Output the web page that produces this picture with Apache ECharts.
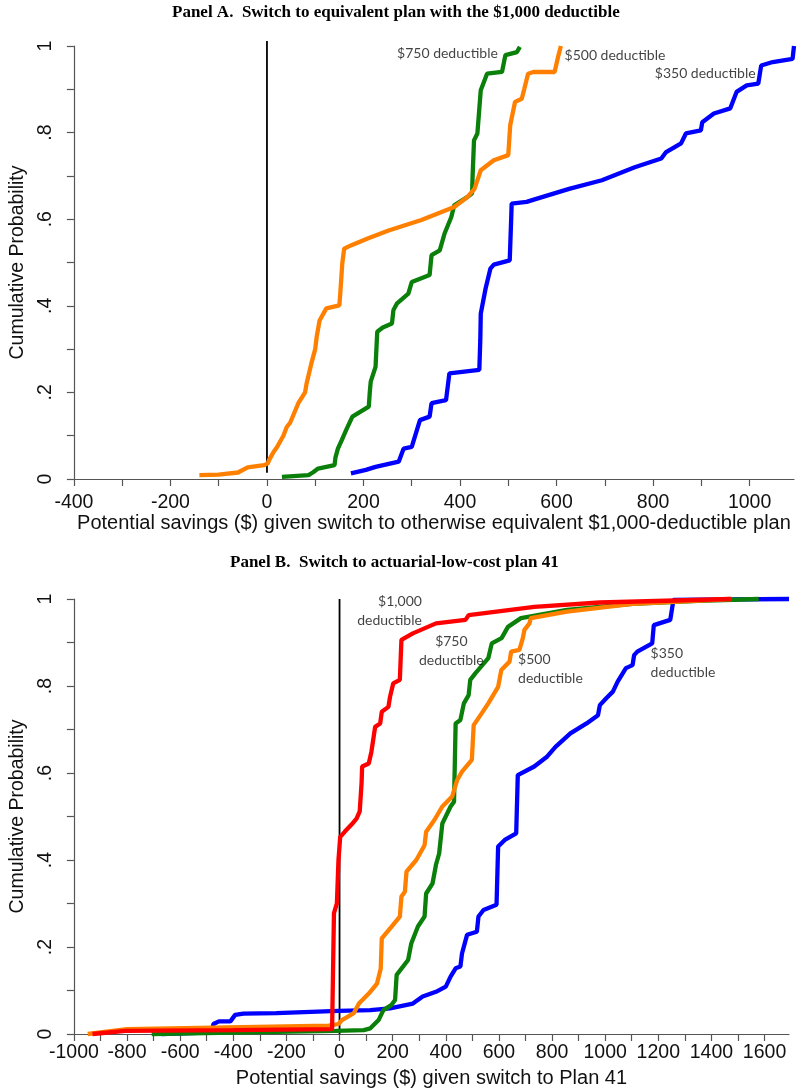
<!DOCTYPE html>
<html>
<head>
<meta charset="utf-8">
<script src="https://cdn.jsdelivr.net/npm/echarts@6/dist/echarts.min.js"></script>
<style>
html,body{margin:0;padding:0;background:#fff;}
#chart{width:812px;height:1091px;}
</style>
</head>
<body>
<div id="chart"></div>
<script>
// ---------- Panel A data: [savings $, cumulative probability] ----------
const panelA_500 = [[-140,0.009],[-100,0.010],[-60,0.015],[-40,0.027],[-6,0.032],[2,0.036],[4,0.043],[14,0.063],[21,0.074],[34,0.10],[41,0.12],[48,0.13],[65,0.175],[79,0.20],[82,0.22],[92,0.267],[100,0.30],[103,0.328],[109,0.366],[113,0.37],[123,0.394],[150,0.401],[152,0.43],[156,0.497],[160,0.532],[175,0.54],[210,0.556],[252,0.574],[320,0.598],[388,0.628],[415,0.651],[430,0.67],[443,0.713],[470,0.736],[500,0.748],[504,0.817],[514,0.871],[528,0.878],[533,0.90],[541,0.936],[552,0.94],[596,0.94],[603,0.974],[609,1.0]];
const panelA_750 = [[31,0.005],[86,0.009],[95,0.015],[106,0.024],[140,0.032],[142,0.05],[147,0.07],[155,0.09],[164,0.113],[177,0.144],[211,0.167],[213,0.2],[215,0.225],[225,0.259],[228.5,0.340],[240,0.35],[259,0.359],[262,0.39],[269,0.405],[293,0.428],[300,0.455],[337,0.471],[341,0.517],[358,0.528],[368,0.567],[382,0.605],[388,0.632],[415,0.651],[425,0.66],[426,0.697],[429,0.782],[436,0.798],[443,0.898],[456,0.936],[487,0.94],[494,0.979],[518,0.986],[524,0.998]];
const panelA_350 = [[174,0.013],[205,0.021],[225,0.028],[273,0.04],[283,0.07],[300,0.074],[317,0.136],[337,0.144],[341,0.175],[371,0.182],[378,0.244],[409,0.248],[440,0.252],[442,0.32],[443,0.382],[453,0.44],[463,0.486],[470,0.495],[503,0.505],[506,0.6],[507,0.636],[538,0.64],[558,0.647],[626,0.67],[694,0.69],[762,0.72],[817,0.74],[827,0.755],[858,0.775],[868,0.798],[899,0.805],[902,0.824],[926,0.844],[960,0.856],[973,0.894],[994,0.909],[1018,0.913],[1024,0.955],[1048,0.963],[1089,0.970],[1092,1.0]];

// ---------- Panel B data ----------
const panelB_1000 = [[-930,0.0],[-806,0.007],[-400,0.009],[-28,0.011],[-22,0.012],[-21,0.278],[-10,0.30],[-4,0.40],[2.5,0.453],[21,0.466],[46,0.482],[64,0.495],[76,0.512],[83,0.578],[85,0.615],[110,0.622],[120,0.649],[134,0.706],[153,0.714],[159,0.741],[184,0.752],[190,0.775],[202,0.806],[227,0.814],[233,0.906],[276,0.921],[363,0.944],[474,0.952],[486,0.963],[733,0.982],[980,0.992],[1226,0.996],[1473,1.0]];
const panelB_750 = [[-707,0.0],[-400,0.003],[-16,0.007],[91,0.009],[116,0.013],[147,0.032],[165,0.055],[196,0.067],[209,0.078],[215,0.136],[258,0.17],[270,0.208],[295,0.247],[320,0.27],[326,0.323],[350,0.346],[363,0.389],[375,0.415],[387,0.484],[418,0.523],[431,0.534],[437,0.714],[455,0.722],[468,0.76],[486,0.779],[492,0.814],[511,0.829],[560,0.864],[573,0.898],[610,0.91],[634,0.936],[683,0.956],[856,0.975],[1103,0.989],[1350,0.996],[1578,1.0]];
const panelB_500 = [[-948,0.0],[-800,0.011],[-41,0.019],[-4,0.023],[9,0.032],[54,0.048],[73,0.07],[110,0.093],[141,0.116],[155,0.15],[159,0.22],[196,0.247],[227,0.27],[233,0.316],[246,0.327],[252,0.373],[289,0.40],[320,0.434],[326,0.465],[357,0.492],[387,0.523],[424,0.546],[443,0.584],[461,0.603],[498,0.63],[505,0.71],[535,0.737],[560,0.76],[597,0.798],[609,0.837],[640,0.856],[646,0.879],[677,0.883],[690,0.91],[696,0.929],[715,0.944],[720,0.956],[856,0.971],[1103,0.989],[1473,1.0]];
const panelB_350 = [[-670,0.0],[-480,0.004],[-475,0.023],[-454,0.029],[-411,0.029],[-393,0.044],[-362,0.047],[-238,0.048],[-4,0.053],[116,0.055],[190,0.059],[276,0.07],[313,0.086],[363,0.097],[400,0.109],[418,0.132],[437,0.151],[455,0.155],[461,0.185],[480,0.228],[517,0.235],[523,0.27],[542,0.285],[591,0.297],[597,0.431],[622,0.446],[665,0.461],[671,0.595],[733,0.615],[782,0.638],[813,0.66],[869,0.691],[930,0.714],[973,0.733],[980,0.756],[1004,0.772],[1029,0.787],[1047,0.81],[1066,0.829],[1078,0.841],[1103,0.848],[1109,0.871],[1121,0.879],[1177,0.898],[1183,0.94],[1245,0.952],[1257,0.998],[1692,1.0]];

// ---------- zero reference lines ----------
const zeroLineA = [[0,0.0145],[0,1.0115]];
const zeroLineB = [[0,0.0],[0,1.0]];

// ---------- axis ticks and labels ----------
const yTickValues = [0,0.1,0.2,0.3,0.4,0.5,0.6,0.7,0.8,0.9,1];
const yLabelValues = [0,0.2,0.4,0.6,0.8,1];
const yLabelText = ['0','.2','.4','.6','.8','1'];
const xTicksA = [-400,-300,-200,-100,0,100,200,300,400,500,600,700,800,900,1000];
const xLabelsA = [-400,-200,0,200,400,600,800,1000];
const xTicksB = [-1000,-900,-800,-700,-600,-500,-400,-300,-200,-100,0,100,200,300,400,500,600,700,800,900,1000,1100,1200,1300,1400,1500,1600];
const xLabelsB = [-1000,-800,-600,-400,-200,0,200,400,600,800,1000,1200,1400,1600];
const xRangeA = [-400, 1092];
const xRangeB = [-1000, 1692];

// ---------- texts ----------
const titleA = 'Panel A.  Switch to equivalent plan with the $1,000 deductible';
const titleB = 'Panel B.  Switch to actuarial-low-cost plan 41';
const xNameA = 'Potential savings ($) given switch to otherwise equivalent $1,000-deductible plan';
const xNameB = 'Potential savings ($) given switch to Plan 41';
const yName = 'Cumulative Probability';
// annotations: [x, y, text]
const annoA = [[374,0.982,'$750 deductible'],[721,0.977,'$500 deductible'],[908,0.936,'$350 deductible']];
const annoB = [[310,0.973,'$1,000\ndeductible'],[421,0.880,'$750\ndeductible'],[672,0.838,'$500\ndeductible'],[1171,0.854,'$350\ndeductible']];
const annoAlignA = ['center','center','center'];
const annoAlignB = ['right','center','left','left'];

const COLORS = {c350:'#0000ff', c500:'#ff8000', c750:'#0a800a', c1000:'#ff0000'};
const SANS = '"Liberation Sans", Arial, sans-serif';
const SERIF = '"Liberation Serif", "Times New Roman", serif';
const AXIS_COLOR = '#555';

function xAxisCfg(grid, range, ticks, labels, name, labelMargin, nameGap){
  return {
    type:'value', gridIndex:grid, min:range[0], max:range[1],
    splitLine:{show:false},
    axisLine:{show:true, onZero:false, lineStyle:{color:AXIS_COLOR, width:1.2}},
    axisTick:{show:true, customValues:ticks, length:7, lineStyle:{color:AXIS_COLOR, width:1.2}},
    axisLabel:{customValues:labels, margin:labelMargin, fontFamily:SANS, fontSize:19.5, color:'#111',
      formatter:v=>String(v)},
    name:name, nameLocation:'middle', nameGap:nameGap,
    nameTextStyle:{fontFamily:SANS, fontSize:20, color:'#111'}
  };
}
function yAxisCfg(grid){
  return {
    type:'value', gridIndex:grid, min:0, max:1,
    splitLine:{show:false},
    axisLine:{show:true, onZero:false, lineStyle:{color:AXIS_COLOR, width:1.2}},
    axisTick:{show:true, customValues:yTickValues, length:7, lineStyle:{color:AXIS_COLOR, width:1.2}},
    axisLabel:{customValues:yLabelValues, rotate:90, margin:18, fontFamily:SANS, fontSize:19.5, color:'#111',
      formatter:v=>yLabelText[yLabelValues.findIndex(x=>Math.abs(x-v)<1e-9)]},
    name:yName, nameLocation:'middle', nameGap:41,
    nameTextStyle:{fontFamily:SANS, fontSize:19.5, color:'#111'}
  };
}
function curve(grid, data, color){
  return {type:'line', xAxisIndex:grid, yAxisIndex:grid, data:data, showSymbol:false, symbol:'none',
    lineStyle:{color:color, width:4.3}, clip:false, animation:false, z:3};
}
function zeroLine(grid, data){
  return {type:'line', xAxisIndex:grid, yAxisIndex:grid, data:data, showSymbol:false, symbol:'none',
    lineStyle:{color:'#000', width:1.8}, clip:false, animation:false, z:2};
}
function annos(grid, arr, aligns){
  return {type:'scatter', xAxisIndex:grid, yAxisIndex:grid, symbolSize:0, animation:false, z:5,
    data: arr.map((a,i)=>({value:[a[0],a[1]], name:a[2], label:{align:aligns[i]}})),
    label:{show:true, position:'inside', formatter:p=>p.name, fontFamily:'Lato, "Open Sans", sans-serif',
      fontSize:14, color:'#111', lineHeight:19, verticalAlign:'middle'}};
}

const chart = echarts.init(document.getElementById('chart'), null, {renderer:'canvas'});
chart.setOption({
  backgroundColor:'#fff',
  animation:false,
  grid:[
    {left:63, top:46, width:731, height:433},
    {left:61, top:599, width:728, height:435}
  ],
  xAxis:[
    xAxisCfg(0, xRangeA, xTicksA, xLabelsA, xNameA, 14, 32),
    xAxisCfg(1, xRangeB, xTicksB, xLabelsB, xNameB, 9, 34)
  ],
  yAxis:[yAxisCfg(0), yAxisCfg(1)],
  graphic:[
    {type:'text', left:172, top:4, style:{text:titleA, fontFamily:SERIF, fontWeight:'bold', fontSize:17, fill:'#000'}},
    {type:'text', left:230, top:554, style:{text:titleB, fontFamily:SERIF, fontWeight:'bold', fontSize:17, fill:'#000'}}
  ],
  series:[
    zeroLine(0, zeroLineA),
    curve(0, panelA_350, COLORS.c350),
    curve(0, panelA_750, COLORS.c750),
    curve(0, panelA_500, COLORS.c500),
    annos(0, annoA, annoAlignA),
    zeroLine(1, zeroLineB),
    curve(1, panelB_350, COLORS.c350),
    curve(1, panelB_750, COLORS.c750),
    curve(1, panelB_500, COLORS.c500),
    curve(1, panelB_1000, COLORS.c1000),
    annos(1, annoB, annoAlignB)
  ]
});
</script>
</body>
</html>
